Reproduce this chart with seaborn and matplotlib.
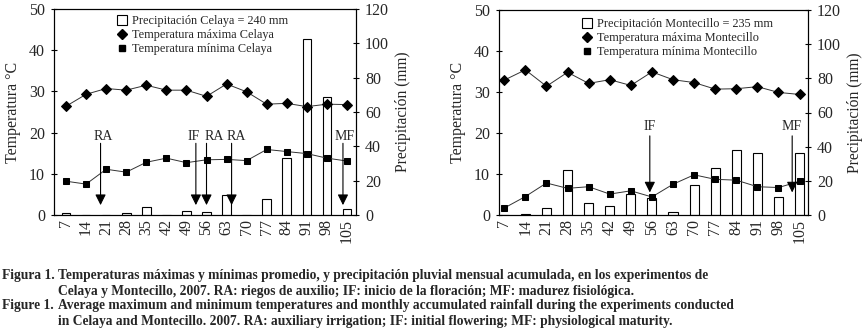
import numpy as np
import pandas as pd
import matplotlib
matplotlib.use("Agg")
import matplotlib.pyplot as plt
import seaborn as sns
from matplotlib.lines import Line2D

sns.set_theme(style="white")
plt.rcParams['font.family'] = ['Liberation Serif', 'DejaVu Serif']

# ---------------- data ----------------
days = [7, 14, 21, 28, 35, 42, 49, 56, 63, 70, 77, 84, 91, 98, 105]
day_labels = [str(d) for d in days]

celaya_tmax = [26.4, 29.3, 30.7, 30.3, 31.5, 30.3, 30.3, 28.8, 31.8, 29.9, 26.9, 27.1, 26.3, 26.9, 26.8]
celaya_tmin = [8.2, 7.5, 11.1, 10.4, 12.8, 13.8, 12.7, 13.4, 13.5, 13.2, 15.9, 15.4, 14.9, 13.8, 13.1]
celaya_prec = [1.0, 0.0, 0.0, 1.0, 4.7, 0.0, 2.3, 1.6, 11.7, 0.0, 9.3, 33.0, 102.5, 69.0, 3.3]

mont_tmax = [32.9, 35.4, 31.4, 34.8, 32.1, 33.0, 31.6, 34.9, 33.0, 32.3, 30.7, 30.8, 31.3, 29.9, 29.4]
mont_tmin = [1.7, 4.5, 7.8, 6.5, 6.9, 5.1, 5.9, 4.4, 7.5, 9.8, 8.7, 8.5, 6.9, 6.7, 8.2]
mont_prec = [0.0, 0.3, 3.9, 26.6, 6.8, 5.0, 12.5, 10.0, 1.6, 17.5, 27.8, 38.3, 36.5, 10.5, 36.1]

# event markers: (label, category position of arrow, label position)
celaya_events = [("RA", 1.72, 1.83), ("IF", 6.47, 6.35), ("RA", 7.0, 7.38), ("RA", 8.25, 8.5), ("MF", 13.8, 13.9)]
mont_events = [("IF", 6.9, 6.9), ("MF", 13.65, 13.6)]

legend_celaya = ["Precipitación Celaya = 240 mm", "Temperatura máxima Celaya", "Temperatura mínima Celaya"]
legend_mont = ["Precipitación Montecillo = 235 mm", "Temperatura máxima Montecillo", "Temperatura mínima Montecillo"]

caption = [
    ("Figura 1.", "Temperaturas máximas y mínimas promedio, y precipitación pluvial mensual acumulada, en los experimentos de"),
    ("", "Celaya y Montecillo, 2007. RA: riegos de auxilio; IF: inicio de la floración; MF: madurez fisiológica."),
    ("Figure 1.", "Average maximum and minimum temperatures and monthly accumulated rainfall during the experiments conducted"),
    ("", "in Celaya and Montecillo. 2007. RA: auxiliary irrigation; IF: initial flowering; MF: physiological maturity."),
]

W, H = 863, 335
fig = plt.figure(figsize=(W / 100, H / 100), dpi=100)


def panel(rect, tmax, tmin, prec, events, legend_labels, xlim, arrow_top, arrow_tip, label_y, leg_anchor):
    ax = fig.add_axes(rect)
    ax2 = ax.twinx()
    df = pd.DataFrame({"day": day_labels, "prec": prec, "tmax": tmax, "tmin": tmin,
                       "pos": np.arange(len(days))})
    sns.barplot(data=df, x="day", y="prec", ax=ax2, color="white", edgecolor="black",
                linewidth=0.8, width=0.43, saturation=1, order=day_labels)
    sns.lineplot(data=df, x="pos", y="tmax", ax=ax, color="#333333", linewidth=0.7,
                 marker="D", markersize=5, markeredgecolor="black", markerfacecolor="black")
    sns.lineplot(data=df, x="pos", y="tmin", ax=ax, color="#333333", linewidth=0.7,
                 marker="s", markersize=4.6, markeredgecolor="black", markerfacecolor="black")
    ax.set_zorder(ax2.get_zorder() + 1)
    ax.patch.set_visible(False)

    ax.set_ylim(0, 50)
    ax2.set_ylim(0, 120)
    ax.set_yticks(range(0, 51, 10))
    ax2.set_yticks(range(0, 121, 20))
    ax.set_xlim(*xlim)
    ax.set_xticks(np.arange(len(days)))
    ax.set_xticklabels(day_labels, rotation=90)
    ax.set_xticks(np.arange(len(days) - 1) + 0.5, minor=True)
    ax.tick_params(axis="x", which="major", length=0, pad=3, labelsize=11.5)
    ax.tick_params(axis="x", which="minor", length=4, direction="in", width=0.8, color="black")
    ax.tick_params(axis="y", length=5, direction="inout", width=0.8, color="black", labelsize=11.5, pad=4,
                   left=True)
    ax2.tick_params(axis="y", length=5, direction="inout", width=0.8, color="black", labelsize=11.5, pad=4,
                    right=True)
    ax.set_xlabel("")
    ax.set_ylabel("Temperatura °C", fontsize=11.5, labelpad=6)
    ax2.set_ylabel("Precipitación (mm)", fontsize=11.2, labelpad=4)
    for a in (ax, ax2):
        for s in a.spines.values():
            s.set_color("black")
            s.set_linewidth(0.8)
            s.set_visible(True)

    for lab, xa, xl in events:
        ax.annotate("", xy=(xa, arrow_tip), xytext=(xa, arrow_top),
                    arrowprops=dict(arrowstyle="-|>", color="black", lw=0.8, mutation_scale=16,
                                    shrinkA=0, shrinkB=0))
        ax.text(xl, label_y, lab, ha="center", va="center", fontsize=10)

    handles = [
        Line2D([], [], linestyle="none", marker="s", markersize=6.5, markerfacecolor="white",
               markeredgecolor="black", markeredgewidth=0.8),
        Line2D([], [], linestyle="none", marker="D", markersize=5, markerfacecolor="black",
               markeredgecolor="black"),
        Line2D([], [], linestyle="none", marker="s", markersize=4.6, markerfacecolor="black",
               markeredgecolor="black"),
    ]
    ax.legend(handles, legend_labels, loc="upper left", bbox_to_anchor=leg_anchor, frameon=False,
              fontsize=8.8, handlelength=0.8, handletextpad=0.4, labelspacing=0.15, borderaxespad=0,
              borderpad=0)
    return ax, ax2


def frac_rect(x0, y0, x1, y1):
    return [x0 / W, 1 - y1 / H, (x1 - x0) / W, (y1 - y0) / H]


panel(frac_rect(54, 9, 356, 215), celaya_tmax, celaya_tmin, celaya_prec, celaya_events, legend_celaya,
      (-0.6, 14.45), 17.4, 2.4, 19.1, (0.21, 0.97))
panel(frac_rect(499, 10, 808, 215), mont_tmax, mont_tmin, mont_prec, mont_events, legend_mont,
      (-0.25, 14.4), 19.3, 5.5, 21.5, (0.27, 0.96))

ys = [275, 291, 306, 322]
for (head, body), y in zip(caption, ys):
    if head:
        fig.text(2 / W, 1 - y / H, head, ha="left", va="center", fontsize=9.75, fontweight="bold")
    fig.text(58 / W, 1 - y / H, body, ha="left", va="center", fontsize=9.75, fontweight="bold")

fig.savefig("out.png", dpi=100)
